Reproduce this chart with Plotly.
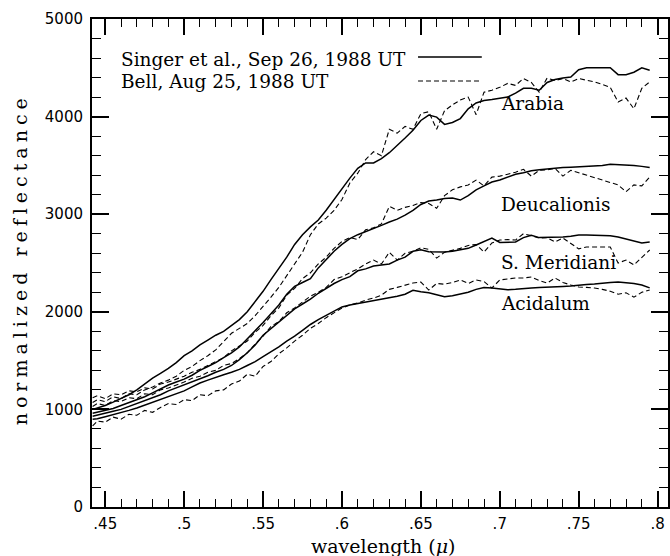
import plotly.graph_objects as go

# ---------------- data ----------------
wavelength = [0.442, 0.445, 0.450, 0.455, 0.460, 0.465, 0.470, 0.475, 0.480, 0.485,
              0.490, 0.495, 0.500, 0.505, 0.510, 0.515, 0.520, 0.525, 0.530, 0.535,
              0.540, 0.545, 0.550, 0.555, 0.560, 0.565, 0.570, 0.575, 0.580, 0.585,
              0.590, 0.595, 0.600, 0.605, 0.610, 0.615, 0.620, 0.625, 0.630, 0.635,
              0.640, 0.645, 0.650, 0.655, 0.660, 0.665, 0.670, 0.675, 0.680, 0.685,
              0.690, 0.695, 0.700, 0.705, 0.710, 0.715, 0.720, 0.725, 0.730, 0.735,
              0.740, 0.745, 0.750, 0.755, 0.760, 0.765, 0.770, 0.775, 0.780, 0.785,
              0.790, 0.795]

# Singer et al. (solid)
arabia_singer = [1000, 1015, 1040, 1075, 1110, 1150, 1200, 1260, 1320, 1370,
                 1420, 1480, 1550, 1600, 1660, 1710, 1760, 1800, 1860, 1920,
                 2000, 2100, 2210, 2330, 2440, 2560, 2690, 2790, 2870, 2940,
                 3040, 3150, 3270, 3370, 3470, 3525, 3525, 3570, 3630, 3700,
                 3780, 3860, 3960, 4016, 3995, 3920, 3940, 3980, 4080, 4140,
                 4165, 4175, 4190, 4200, 4240, 4290, 4290, 4270, 4350, 4380,
                 4395, 4405, 4480, 4500, 4500, 4500, 4500, 4430, 4430, 4455,
                 4500, 4475]
deucalionis_singer = [960, 970, 990, 1010, 1040, 1070, 1100, 1130, 1170, 1210,
                      1250, 1280, 1310, 1350, 1400, 1440, 1480, 1530, 1580, 1640,
                      1720, 1800, 1890, 1980, 2070, 2180, 2260, 2300, 2340, 2450,
                      2540, 2620, 2690, 2750, 2790, 2820, 2850, 2885, 2920, 2950,
                      2990, 3040, 3100, 3135, 3145, 3160, 3165, 3145, 3190, 3250,
                      3290, 3330, 3350, 3380, 3410, 3425, 3445, 3455, 3465, 3472,
                      3478, 3482, 3485, 3488, 3490, 3500, 3512, 3510, 3505, 3500,
                      3490, 3478]
meridiani_singer = [930, 940, 960, 980, 1000, 1030, 1060, 1090, 1120, 1150,
                    1190, 1220, 1250, 1280, 1310, 1345, 1380, 1410, 1450, 1510,
                    1580, 1660, 1760, 1830, 1900, 1970, 2030, 2080, 2130, 2190,
                    2240, 2290, 2330, 2360, 2420, 2440, 2470, 2480, 2490, 2530,
                    2560, 2620, 2635, 2615, 2612, 2612, 2620, 2633, 2650, 2685,
                    2720, 2756, 2710, 2712, 2715, 2760, 2785, 2760, 2760, 2765,
                    2766, 2775, 2787, 2787, 2787, 2785, 2780, 2766, 2745, 2720,
                    2705, 2715]
acidalum_singer = [900, 905, 925, 945, 965, 990, 1015, 1045, 1075, 1105,
                   1135, 1160, 1190, 1230, 1270, 1300, 1330, 1355, 1380, 1410,
                   1450, 1490, 1540, 1590, 1640, 1700, 1750, 1810, 1870, 1920,
                   1965, 2010, 2050, 2070, 2085, 2100, 2110, 2125, 2145, 2160,
                   2180, 2220, 2205, 2195, 2175, 2155, 2165, 2180, 2200, 2230,
                   2250, 2245, 2235, 2225, 2230, 2240, 2245, 2248, 2250, 2255,
                   2260, 2265, 2275, 2280, 2285, 2295, 2300, 2305, 2300, 2290,
                   2275, 2245]

# Bell (dashed)
arabia_bell = [1070, 1100, 1080, 1130, 1110, 1160, 1150, 1200, 1230, 1270,
               1300, 1340, 1400, 1440, 1500, 1550, 1610, 1690, 1780, 1830,
               1880, 1960, 2050, 2150, 2250, 2370, 2480, 2610, 2790, 2900,
               2960, 3040, 3150, 3320, 3420, 3560, 3640, 3600, 3870, 3830,
               3900, 3870, 4030, 4050, 3870, 4060, 4120, 4170, 4200, 4020,
               4250, 4270, 4300, 4340, 4320, 4390, 4350, 4250, 4395, 4370,
               4390, 4355, 4390, 4375, 4355, 4330, 4300, 4150, 4190, 4080,
               4290, 4355]
deucalionis_bell = [1120, 1140, 1110, 1160, 1150, 1190, 1180, 1220, 1210, 1260,
                    1280, 1310, 1340, 1380, 1410, 1450, 1490, 1530, 1600, 1650,
                    1700, 1790, 1860, 1960, 2040, 2170, 2240, 2340, 2400, 2490,
                    2560, 2650, 2720, 2760, 2740, 2840, 2860, 2900, 3080, 3040,
                    3070, 3090, 3120, 3110, 3060, 3190, 3250, 3280, 3300, 3350,
                    3290, 3380, 3390, 3410, 3430, 3460, 3390, 3450, 3455, 3470,
                    3390, 3450, 3425, 3400, 3375, 3350, 3330, 3300, 3230, 3300,
                    3290, 3380]
meridiani_bell = [1030, 1060, 1040, 1090, 1080, 1120, 1110, 1160, 1150, 1200,
                  1220, 1250, 1280, 1320, 1340, 1380, 1400, 1450, 1470, 1520,
                  1580, 1670, 1750, 1850, 1900, 1990, 2040, 2100, 2160, 2200,
                  2250, 2330, 2360, 2400, 2440, 2490, 2530, 2490, 2610, 2530,
                  2600, 2620, 2655, 2640, 2550, 2610, 2630, 2650, 2680, 2690,
                  2612, 2705, 2735, 2740, 2735, 2800, 2780, 2756, 2760, 2715,
                  2756, 2700, 2645, 2664, 2664, 2664, 2664, 2500, 2530, 2480,
                  2560, 2633]
acidalum_bell = [830, 880, 870, 920, 900, 950, 940, 990, 970, 1020,
                 1060, 1050, 1100, 1090, 1150, 1140, 1190, 1200, 1260, 1290,
                 1360, 1340, 1440, 1490, 1570, 1630, 1700, 1760, 1830, 1880,
                 1940, 1990, 2039, 2070, 2090, 2120, 2141, 2170, 2230, 2250,
                 2270, 2295, 2305, 2223, 2290, 2283, 2300, 2326, 2290, 2326,
                 2310, 2244, 2326, 2335, 2346, 2346, 2357, 2320, 2295, 2346,
                 2300, 2275, 2254, 2250, 2244, 2230, 2210, 2180, 2195, 2150,
                 2200, 2223]

region_names = ["Arabia", "Deucalionis", "S. Meridiani", "Acidalum"]
region_label_y = [4134, 3100, 2510, 2085]
legend_texts = ["Singer et al., Sep 26, 1988 UT", "Bell, Aug 25, 1988 UT"]

# axis tick labels as printed
x_major = [0.45, 0.5, 0.55, 0.6, 0.65, 0.7, 0.75, 0.8]
x_labels = [".45", ".5", ".55", ".6", ".65", ".7", ".75", ".8"]
y_major = [0, 1000, 2000, 3000, 4000, 5000]
y_labels = ["0", "1000", "2000", "3000", "4000", "5000"]

singer = [arabia_singer, deucalionis_singer, meridiani_singer, acidalum_singer]
bell = [arabia_bell, deucalionis_bell, meridiani_bell, acidalum_bell]

# ---------------- figure ----------------
fig = go.Figure()
solid_style = dict(color="black", width=1.5)
dash_style = dict(color="black", width=1.1, dash="5px,3px")

for ys in singer:
    fig.add_trace(go.Scatter(x=wavelength, y=ys, mode="lines", line=solid_style,
                             showlegend=False, hoverinfo="skip"))
for ys in bell:
    fig.add_trace(go.Scatter(x=wavelength, y=ys, mode="lines", line=dash_style,
                             showlegend=False, hoverinfo="skip"))

serif = "DejaVu Serif"
sans = "DejaVu Sans"

fig.update_layout(
    width=670, height=556,
    margin=dict(l=92, r=0, t=19, b=49),
    plot_bgcolor="white", paper_bgcolor="white",
    showlegend=False,
)
fig.update_xaxes(
    range=[0.4416, 0.8066], showgrid=False, zeroline=False,
    showline=True, linecolor="black", linewidth=2, mirror="ticks",
    ticks="inside", ticklen=16, tickwidth=1.6, tickcolor="black",
    tickmode="array", tickvals=x_major, ticktext=x_labels,
    ticklabelstandoff=2,
    tickfont=dict(family=sans, size=15, color="black"),
    minor=dict(ticks="inside", ticklen=8, tickwidth=1.3, tickcolor="black",
               tickmode="linear", tick0=0.45, dtick=0.01, showgrid=False),
)
fig.update_yaxes(
    range=[0, 5000], showgrid=False, zeroline=False,
    showline=True, linecolor="black", linewidth=2, mirror="ticks",
    ticks="inside", ticklen=17, tickwidth=1.6, tickcolor="black",
    tickmode="array", tickvals=y_major, ticktext=y_labels,
    ticklabelstandoff=4,
    tickfont=dict(family=sans, size=15, color="black"),
    minor=dict(ticks="inside", ticklen=9, tickwidth=1.3, tickcolor="black",
               tickmode="linear", tick0=0, dtick=200, showgrid=False),
)

# axis titles
fig.add_annotation(text="wavelength (<i>μ</i>)", xref="paper", yref="paper",
                   x=0.506, y=-0.08, xanchor="center", yanchor="middle",
                   showarrow=False, font=dict(family=serif, size=19, color="black"))
fig.add_annotation(text="normalized reflectance", xref="paper", yref="paper",
                   x=-0.125, y=0.508, xanchor="center", yanchor="middle", textangle=-90,
                   showarrow=False, font=dict(family=serif, size=19, color="black"))

# region labels
for name, yv in zip(region_names, region_label_y):
    fig.add_annotation(text=name, x=0.6995, y=yv, xref="x", yref="y",
                       xanchor="left", yanchor="middle", showarrow=False,
                       font=dict(family=serif, size=18.5, color="black"))

# legend (text then sample line)
legend_y = [4590, 4355]
legend_line_y = [4611, 4365]
legend_dash = ["solid", "5px,3px"]
legend_w = [1.5, 1.1]
for t, ty, ly, d, w in zip(legend_texts, legend_y, legend_line_y, legend_dash, legend_w):
    fig.add_annotation(text=t, x=0.4588, y=ty, xref="x", yref="y",
                       xanchor="left", yanchor="middle", showarrow=False,
                       font=dict(family=serif, size=18.5, color="black"))
    fig.add_shape(type="line", xref="x", yref="y", x0=0.6482, x1=0.6886, y0=ly, y1=ly,
                  line=dict(color="black", width=w, dash=d))

post = """
document.querySelectorAll('text').forEach(function(e){
  if (e.textContent === 'normalized reflectance') { e.setAttribute('letter-spacing', '5px'); }
});
"""
fig.write_html("out.html", post_script=post)
